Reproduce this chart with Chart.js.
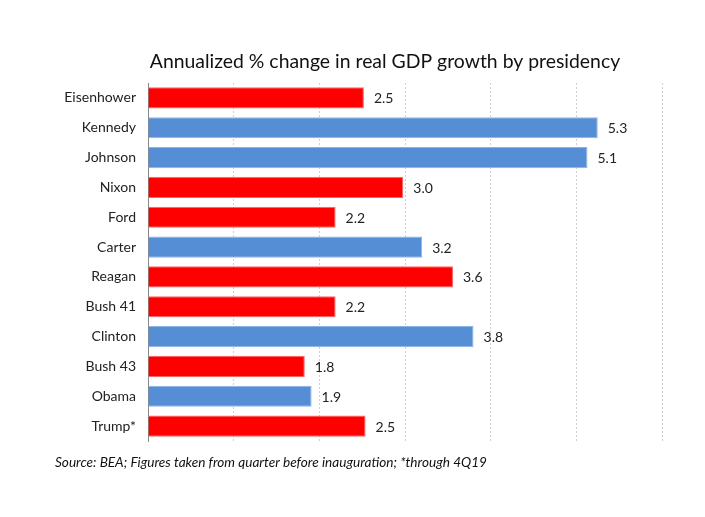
<!DOCTYPE html>
<html>
<head>
<meta charset="utf-8">
<script src="https://cdn.jsdelivr.net/npm/chart.js@4"></script>
<style>
  html, body { margin: 0; padding: 0; background: #fff; }
  #wrap { width: 705px; height: 517px; position: relative; }
</style>
</head>
<body>
<div id="wrap"><canvas id="gdpChart"></canvas></div>
<script>
// data (bar lengths; labels show one decimal)
const presidents = ['Eisenhower', 'Kennedy', 'Johnson', 'Nixon', 'Ford', 'Carter',
  'Reagan', 'Bush 41', 'Clinton', 'Bush 43', 'Obama', 'Trump*'];
const growth = [2.52, 5.25, 5.13, 2.98, 2.19, 3.20, 3.56, 2.19, 3.80, 1.83, 1.91, 2.54];
const party = ['R', 'D', 'D', 'R', 'R', 'D', 'R', 'R', 'D', 'R', 'D', 'R'];
const xTicks = [0, 1, 2, 3, 4, 5, 6];

const titleText = 'Annualized % change in real GDP growth by presidency';
const sourceText = 'Source: BEA; Figures taken from quarter before inauguration; *through 4Q19';

const RED = '#FF0000', BLUE = '#558ED5';
const FONT = 'Lato, "Open Sans", sans-serif';

// titre + source + valeurs au bout des barres
const textPlugin = {
  id: 'textPlugin',
  afterDatasetsDraw(chart) {
    const ctx = chart.ctx;
    const meta = chart.getDatasetMeta(0);
    ctx.save();
    ctx.font = '14px ' + FONT;
    ctx.fillStyle = '#222';
    ctx.textAlign = 'left';
    ctx.textBaseline = 'middle';
    meta.data.forEach((bar, i) => {
      ctx.fillText(growth[i].toFixed(1), bar.x + 10, bar.y + 1);
    });
    ctx.restore();
  },
  afterDraw(chart) {
    const ctx = chart.ctx;
    const area = chart.chartArea;
    ctx.save();
    ctx.fillStyle = '#111';
    ctx.textBaseline = 'middle';
    ctx.textAlign = 'center';
    ctx.font = '19.4px ' + FONT;
    ctx.fillText(titleText, (area.left + area.right) / 2 - 20, area.top - 21);
    ctx.textAlign = 'left';
    ctx.font = 'italic 13.6px ' + FONT;
    ctx.fillText(sourceText, 55, area.bottom + 22);
    ctx.restore();
  }
};

new Chart(document.getElementById('gdpChart'), {
  type: 'bar',
  data: {
    labels: presidents,
    datasets: [{
      data: growth,
      backgroundColor: party.map(p => p === 'R' ? RED : BLUE),
      borderColor: party.map(p => p === 'R' ? '#FF6666' : '#8DB3E6'),
      borderWidth: 1,
      categoryPercentage: 1,
      barPercentage: 0.71
    }]
  },
  options: {
    indexAxis: 'y',
    responsive: true,
    maintainAspectRatio: false,
    animation: false,
    layout: { padding: { left: 0, right: 43, top: 83, bottom: 76 } },
    scales: {
      x: {
        min: 0,
        max: 6,
        afterBuildTicks: scale => { scale.ticks = xTicks.map(v => ({ value: v })); },
        ticks: { display: false },
        grid: {
          color: c => c.tick.value === 0 ? 'rgba(0,0,0,0)' : '#D0D0D0',
          drawTicks: false,
          lineWidth: 1
        },
        border: { display: false, dash: [2, 2] }
      },
      y: {
        afterFit: scale => { scale.width = 148; },
        ticks: {
          color: '#222',
          font: { family: FONT, size: 14 },
          padding: 12
        },
        grid: { display: false, drawTicks: false },
        border: { display: true, color: '#888', width: 1 }
      }
    },
    plugins: {
      legend: { display: false },
      tooltip: { enabled: false },
      title: { display: false }
    }
  },
  plugins: [textPlugin]
});
</script>
</body>
</html>
